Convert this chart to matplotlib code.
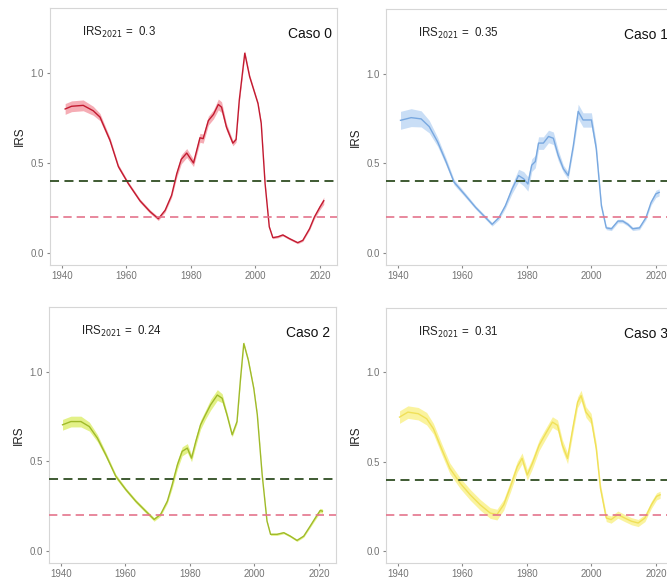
import matplotlib
matplotlib.use("Agg")
import matplotlib.pyplot as plt

plt.rcParams['font.family'] = ['Liberation Sans', 'DejaVu Sans']

# ---------------- data ----------------
cases = ["Caso 0", "Caso 1", "Caso 2", "Caso 3"]
irs2021 = ["0.3", "0.35", "0.24", "0.31"]
threshold_upper = 0.4
threshold_lower = 0.2
x_ticks = [1940, 1960, 1980, 2000, 2020]
y_ticks = [0.0, 0.5, 1.0]
y_tick_labels = ["0.0", "0.5", "1.0"]

years0 = [1941, 1943, 1946.6, 1949.7, 1951.8, 1954.9, 1957.5, 1960.6, 1964.2, 1967.3,
          1969.9, 1972, 1974, 1975.6, 1977, 1978.7, 1980.8, 1982.8, 1983.8, 1985.4,
          1987, 1988.5, 1989.5, 1991, 1993, 1994, 1995, 1996.7, 1998.2, 2000.8,
          2001.8, 2003, 2004.3, 2005.4, 2007, 2008.5, 2010.5, 2013.1, 2014.7, 2016.8,
          2018.3, 2020, 2021.2]
irs0 = [0.80, 0.815, 0.82, 0.79, 0.755, 0.626, 0.48, 0.385, 0.29, 0.23,
        0.19, 0.237, 0.32, 0.44, 0.52, 0.555, 0.50, 0.64, 0.635, 0.735,
        0.77, 0.825, 0.81, 0.70, 0.61, 0.63, 0.85, 1.11, 0.98, 0.83,
        0.72, 0.385, 0.145, 0.085, 0.09, 0.10, 0.08, 0.057, 0.07, 0.135,
        0.20, 0.255, 0.29]
band0 = [0.03, 0.03, 0.03, 0.025, 0.02, 0.015, 0.012, 0.01, 0.01, 0.01,
         0.01, 0.01, 0.012, 0.02, 0.025, 0.025, 0.02, 0.025, 0.025, 0.025,
         0.025, 0.03, 0.03, 0.02, 0.015, 0.015, 0.015, 0.015, 0.012, 0.01,
         0.01, 0.008, 0.006, 0.006, 0.006, 0.006, 0.006, 0.006, 0.006, 0.008,
         0.01, 0.015, 0.02]

years1 = [1940.8, 1944.1, 1947.2, 1949.7, 1952.3, 1954.9, 1957.4, 1961, 1964.1, 1967.2,
          1969.2, 1971.3, 1973.3, 1975.4, 1977.4, 1979, 1980.3, 1981.5, 1982.6, 1983.6,
          1985.1, 1986.7, 1988.2, 1989.7, 1991.3, 1992.8, 1994.4, 1995.9, 1997.4, 2000,
          2001.5, 2003.1, 2004.6, 2006.2, 2008.2, 2009.7, 2011.3, 2012.8, 2014.9, 2016.9,
          2018.5, 2020, 2021]
irs1 = [0.74, 0.755, 0.748, 0.705, 0.62, 0.51, 0.395, 0.32, 0.254, 0.197,
        0.16, 0.197, 0.263, 0.357, 0.432, 0.414, 0.385, 0.49, 0.51, 0.613,
        0.613, 0.65, 0.64, 0.545, 0.47, 0.432, 0.60, 0.79, 0.742, 0.742,
        0.583, 0.263, 0.14, 0.135, 0.178, 0.178, 0.16, 0.135, 0.14, 0.197,
        0.282, 0.33, 0.338]
band1 = [0.05, 0.05, 0.045, 0.035, 0.025, 0.02, 0.015, 0.012, 0.01, 0.01,
         0.01, 0.012, 0.015, 0.025, 0.035, 0.04, 0.04, 0.035, 0.035, 0.035,
         0.035, 0.035, 0.035, 0.03, 0.02, 0.02, 0.025, 0.04, 0.04, 0.04,
         0.03, 0.015, 0.01, 0.01, 0.01, 0.01, 0.01, 0.01, 0.01, 0.012,
         0.015, 0.02, 0.02]

years2 = [1940.5, 1943.1, 1946.2, 1948.8, 1951.3, 1953.9, 1957, 1960.1, 1963.2, 1966.3,
          1968.9, 1970.9, 1973, 1974.5, 1976.1, 1977.6, 1979.2, 1980.5, 1981.8, 1983.3,
          1984.8, 1986.4, 1988.5, 1990, 1991.5, 1993.1, 1994.6, 1995.7, 1996.7, 1998.1,
          1999.8, 2000.9, 2002.4, 2003.9, 2005, 2007, 2009.1, 2011.1, 2013.2, 2015.3,
          2017.3, 2018.9, 2020.4, 2021.1]
irs2 = [0.704, 0.722, 0.722, 0.694, 0.63, 0.537, 0.417, 0.343, 0.278, 0.222,
        0.176, 0.204, 0.278, 0.37, 0.48, 0.556, 0.574, 0.518, 0.61, 0.704,
        0.759, 0.815, 0.87, 0.852, 0.759, 0.648, 0.722, 0.963, 1.157, 1.065,
        0.907, 0.759, 0.426, 0.167, 0.093, 0.093, 0.102, 0.083, 0.059, 0.083,
        0.139, 0.185, 0.226, 0.222]
band2 = [0.03, 0.03, 0.03, 0.025, 0.02, 0.015, 0.012, 0.01, 0.01, 0.01,
         0.01, 0.01, 0.012, 0.02, 0.025, 0.025, 0.025, 0.02, 0.025, 0.025,
         0.025, 0.03, 0.03, 0.025, 0.015, 0.012, 0.012, 0.012, 0.012, 0.01,
         0.008, 0.008, 0.006, 0.006, 0.006, 0.006, 0.006, 0.006, 0.006, 0.006,
         0.008, 0.01, 0.012, 0.012]

years3 = [1940.5, 1943.1, 1946.3, 1948.9, 1951, 1953.5, 1956.1, 1959.3, 1962.4, 1965.5,
          1968.6, 1970.7, 1972.8, 1974.9, 1977, 1978.5, 1980.1, 1981.7, 1983.8, 1985.8,
          1987.9, 1989.5, 1991, 1992.6, 1994.2, 1995.7, 1996.8, 1998.3, 1999.9, 2001.5,
          2002.8, 2004.6, 2006.1, 2008.2, 2010.3, 2012.4, 2014.5, 2016.6, 2018.6, 2020.2,
          2021.3]
irs3 = [0.75, 0.778, 0.769, 0.741, 0.685, 0.574, 0.463, 0.38, 0.315, 0.259,
        0.213, 0.204, 0.259, 0.361, 0.472, 0.519, 0.426, 0.491, 0.593, 0.657,
        0.722, 0.704, 0.593, 0.519, 0.685, 0.833, 0.87, 0.778, 0.741, 0.574,
        0.352, 0.185, 0.176, 0.204, 0.185, 0.167, 0.157, 0.185, 0.259, 0.306,
        0.315]
band3 = [0.035, 0.035, 0.035, 0.035, 0.03, 0.03, 0.03, 0.03, 0.03, 0.03,
         0.03, 0.03, 0.03, 0.03, 0.03, 0.03, 0.03, 0.03, 0.03, 0.03,
         0.03, 0.03, 0.03, 0.03, 0.03, 0.03, 0.03, 0.03, 0.03, 0.03,
         0.025, 0.02, 0.02, 0.02, 0.02, 0.02, 0.02, 0.02, 0.02, 0.02,
         0.02]

series = [(years0, irs0, band0), (years1, irs1, band1),
          (years2, irs2, band2), (years3, irs3, band3)]

# ---------------- style ----------------
line_colors = ["#c21a30", "#78a8e0", "#9fba2a", "#f0e058"]
band_colors = ["#f28a96", "#bcd6f4", "#dcee6a", "#faf294"]
band_alpha = [0.7, 0.8, 0.8, 0.9]

W, H = 667, 582
fig = plt.figure(figsize=(W / 100, H / 100), dpi=100)
fig.patch.set_facecolor("white")

# pixel boxes (x0, y0_top, x1, y1_bottom)
boxes = [(50, 8, 337, 265), (386, 9, 673, 265),
         (49, 307, 336, 563), (386, 308, 673, 563)]

for i, (bx, (yrs, vals, band)) in enumerate(zip(boxes, series)):
    x0, yt, x1, yb = bx
    ax = fig.add_axes([x0 / W, 1 - yb / H, (x1 - x0) / W, (yb - yt) / H])
    ax.set_xlim(1936.3, 2025.3)
    ax.set_ylim(-0.067, 1.361)
    lo = [v - b for v, b in zip(vals, band)]
    hi = [v + b for v, b in zip(vals, band)]
    ax.fill_between(yrs, lo, hi, color=band_colors[i], alpha=band_alpha[i],
                    linewidth=0, zorder=2)
    ax.plot(yrs, vals, color=line_colors[i], linewidth=1.0, zorder=3)
    ax.axhline(threshold_upper, color="#2f4d22", linestyle=(0, (5, 3)),
               linewidth=1.3, zorder=4)
    ax.axhline(threshold_lower, color="#e4748c", linestyle=(0, (5, 3)),
               linewidth=1.2, zorder=4)

    ax.text(1946.3, 1.225, r"IRS$_{2021}$ =  " + irs2021[i], fontsize=8.3,
            ha="left", va="center", color="#222222")
    ax.text(2023.6, 1.215, cases[i], fontsize=10, ha="right", va="center",
            color="#111111")

    ax.set_xticks(x_ticks)
    ax.set_xticklabels([str(t) for t in x_ticks])
    ax.set_yticks(y_ticks)
    ax.set_yticklabels(y_tick_labels)
    ax.tick_params(axis="both", length=2.5, width=0.8, color="#888888",
                   labelcolor="#747474", labelsize=7, pad=2)
    ax.tick_params(axis="x", pad=1.5)
    ax.set_ylabel("IRS", fontsize=8.5, color="#222222", labelpad=3)
    for s in ax.spines.values():
        s.set_color("#d6d6d6")
        s.set_linewidth(0.8)

fig.savefig("out.png", dpi=100, facecolor="white")
